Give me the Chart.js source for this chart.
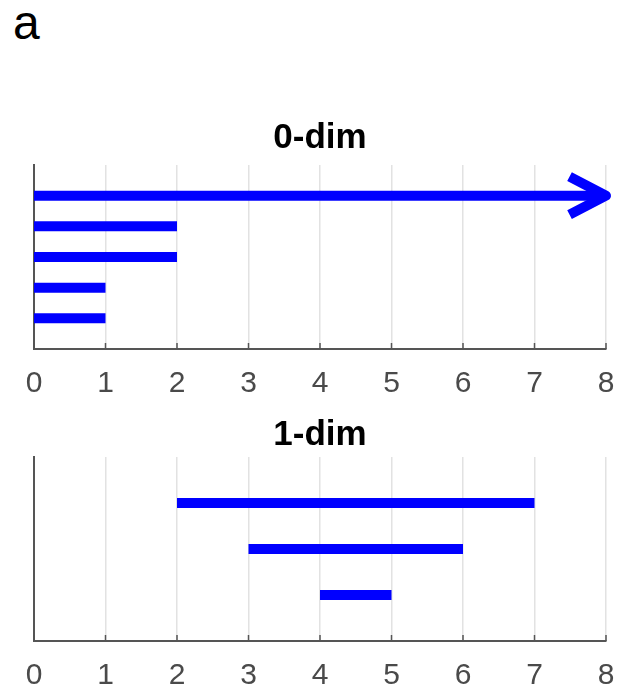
<!DOCTYPE html>
<html>
<head>
<meta charset="utf-8">
<script src="https://cdn.jsdelivr.net/npm/chart.js@4/dist/chart.umd.min.js"></script>
<style>
  body { margin: 0; background: #fff; width: 618px; height: 687px; position: relative; overflow: hidden; }
  canvas { position: absolute; left: 0; }
  #panelLabel { position: absolute; left: 13px; top: -1px; font: 48px "Liberation Sans", Arial, sans-serif; line-height: 48px; color: #000; }
</style>
</head>
<body>
<div id="panelLabel">a</div>
<canvas id="dim0Chart" width="618" height="400" style="top:0"></canvas>
<canvas id="dim1Chart" width="618" height="287" style="top:400px"></canvas>
<script>
// x axis ticks shared by both panels
const xTicks = [0, 1, 2, 3, 4, 5, 6, 7, 8];

// 0-dim barcode (top row first); first bar never dies -> drawn to axis max with an arrow
const dim0Rows = [5, 4, 3, 2, 1];
const dim0Birth = [0, 0, 0, 0, 0];
const dim0Death = [8, 2, 2, 1, 1];
const dim0Infinite = [true, false, false, false, false];

// 1-dim barcode
const dim1Rows = [3, 2, 1];
const dim1Birth = [2, 3, 4];
const dim1Death = [7, 6, 5];

const BLUE = '#0000ff';
const FONT = '"Liberation Sans", Arial, sans-serif';

// little tick marks pointing into the plot, like matlab axes
const innerTicks = {
    id: 'innerTicks',
    afterDraw(chart) {
        const ctx = chart.ctx;
        const xs = chart.scales.x;
        const bottom = chart.chartArea.bottom;
        ctx.save();
        ctx.strokeStyle = '#555';
        ctx.lineWidth = 1.5;
        xs.ticks.forEach(t => {
            const px = xs.getPixelForValue(t.value);
            ctx.beginPath();
            ctx.moveTo(px, bottom);
            ctx.lineTo(px, bottom - 6);
            ctx.stroke();
        });
        ctx.restore();
    }
};

function barDatasets(rows, births, deaths, infinite) {
    let sets = [];
    rows.forEach((r, i) => {
        sets.push({
            data: [{x: births[i], y: r}, {x: deaths[i], y: r}],
            borderColor: BLUE, borderWidth: 10, borderCapStyle: 'butt',
            pointRadius: 0, showLine: true, clip: false
        });
        if (infinite && infinite[i]) {
            // arrow head at the end of the bar
            sets.push({
                data: [{x: deaths[i] - 0.51, y: r + 0.62}, {x: deaths[i], y: r}, {x: deaths[i] - 0.51, y: r - 0.62}],
                borderColor: BLUE, borderWidth: 10, borderCapStyle: 'butt', borderJoinStyle: 'round',
                pointRadius: 0, showLine: true, clip: false
            });
        }
    });
    return sets;
}

function makePanel(canvasId, title, titlePad, yMax, xAxisHeight, datasets) {
    return new Chart(document.getElementById(canvasId).getContext('2d'), {
        type: 'scatter',
        data: { datasets: datasets },
        options: {
            responsive: false, animation: false,
            layout: { padding: { left: 0, right: 12, top: 0, bottom: 0 } },
            plugins: {
                legend: { display: false },
                tooltip: { enabled: false },
                title: {
                    display: true, text: title, color: '#000', fullSize: false,
                    font: { family: FONT, size: 35, weight: 'bold', lineHeight: 1.2 },
                    padding: titlePad
                }
            },
            scales: {
                x: {
                    type: 'linear', min: xTicks[0], max: xTicks[xTicks.length - 1],
                    afterBuildTicks: s => { s.ticks = xTicks.map(v => ({ value: v })); },
                    afterFit: s => { s.height = xAxisHeight; s.paddingLeft = 0; s.paddingRight = 0; },
                    grid: { color: '#e2e2e2', lineWidth: 1.5, drawTicks: false },
                    border: { display: true, color: '#555', width: 2 },
                    ticks: { color: '#4a4a4a', padding: 17, maxRotation: 0, font: { family: FONT, size: 30 } }
                },
                y: {
                    type: 'linear', min: 0, max: yMax,
                    afterFit: s => { s.width = 34; },
                    grid: { display: false },
                    border: { display: true, color: '#555', width: 2 },
                    ticks: { display: false }
                }
            }
        },
        plugins: [innerTicks]
    });
}

makePanel('dim0Chart', '0-dim', { top: 117, bottom: 6 }, 6, 51,
    barDatasets(dim0Rows, dim0Birth, dim0Death, dim0Infinite));
makePanel('dim1Chart', '1-dim', { top: 14, bottom: 1 }, 4, 46,
    barDatasets(dim1Rows, dim1Birth, dim1Death, null));
</script>
</body>
</html>
